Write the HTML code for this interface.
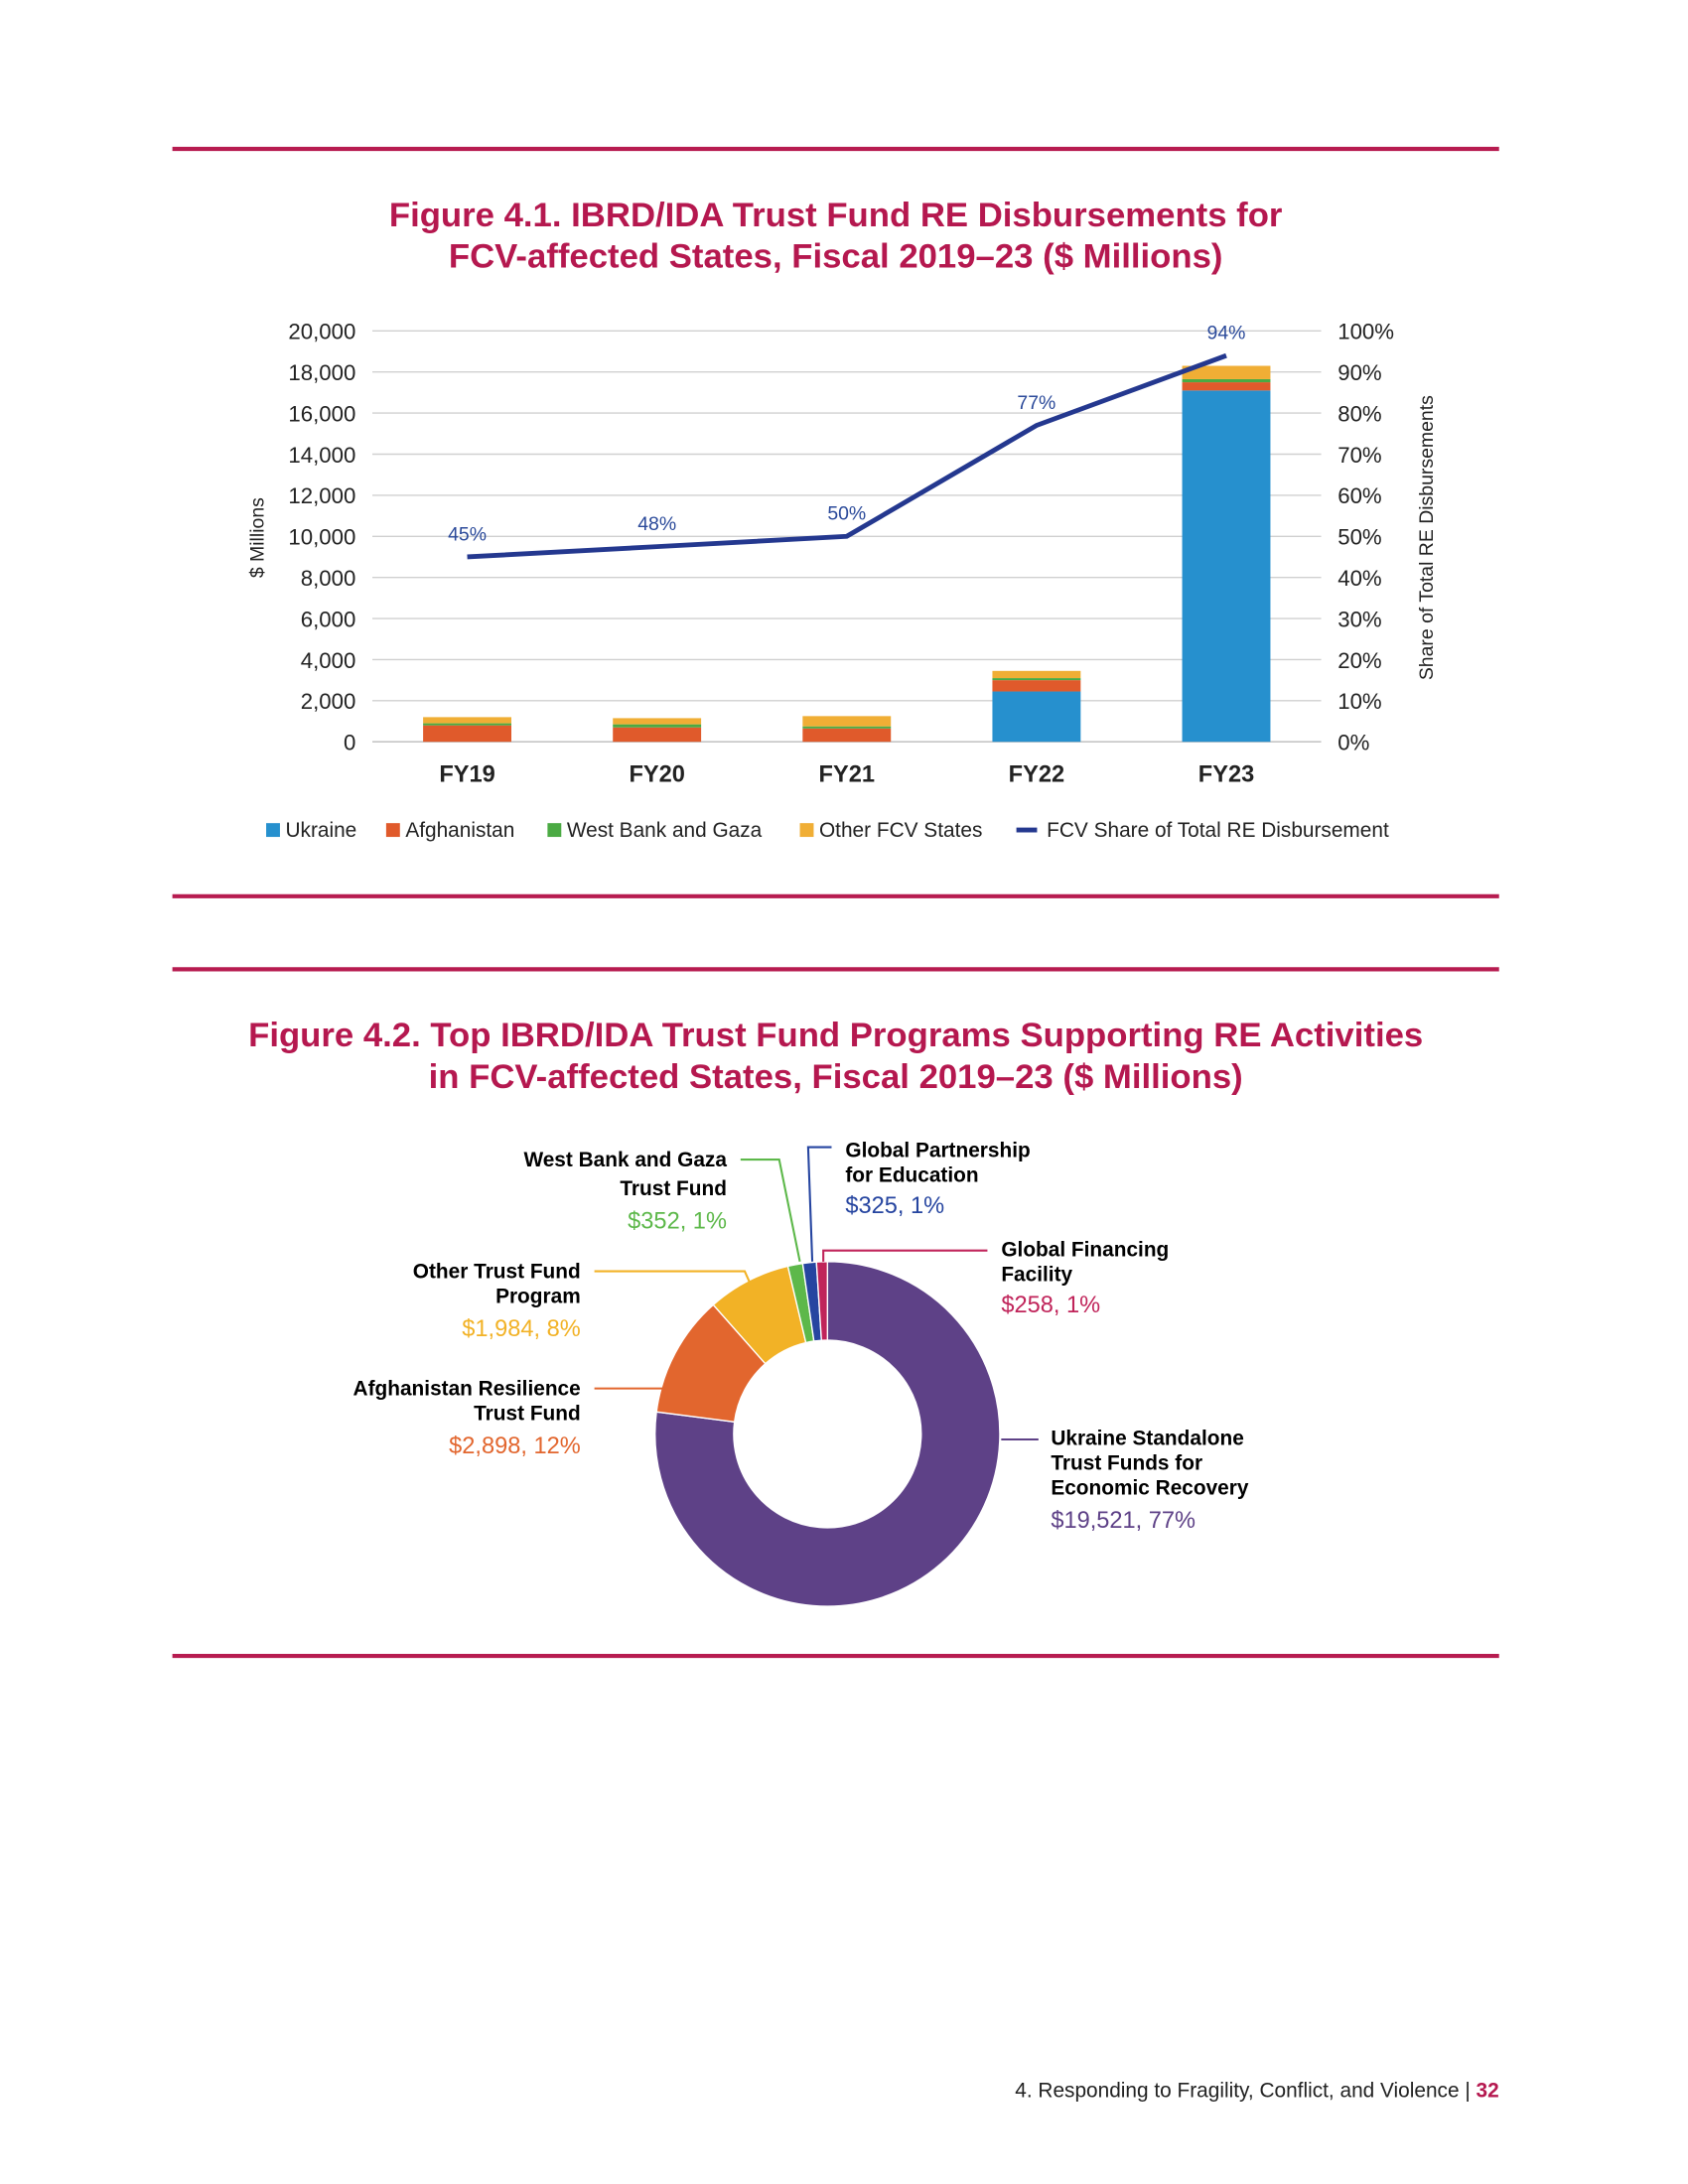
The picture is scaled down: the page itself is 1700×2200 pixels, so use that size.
<!DOCTYPE html>
<html><head><meta charset="utf-8"><style>
html,body{margin:0;padding:0;background:#fff}
svg{display:block;font-family:"Liberation Sans",sans-serif}
</style></head><body>
<svg id="s" width="1700" height="2200" viewBox="0 0 1224 1584" xmlns="http://www.w3.org/2000/svg">
<rect width="1224" height="1584" fill="#fff"/>
<line x1="125" y1="108" x2="1087" y2="108" stroke="#B71C50" stroke-width="3"/>
<g fill="#B5184F" font-weight="bold" font-size="25" text-anchor="middle">
<text x="606" y="164">Figure 4.1. IBRD/IDA Trust Fund RE Disbursements for</text>
<text x="606" y="194">FCV-affected States, Fiscal 2019–23 ($ Millions)</text>
</g>
<g id="bar"></g>
<line x1="125" y1="650" x2="1087" y2="650" stroke="#B71C50" stroke-width="3"/>
<line x1="125" y1="703" x2="1087" y2="703" stroke="#B71C50" stroke-width="3"/>
<g fill="#B5184F" font-weight="bold" font-size="25" text-anchor="middle">
<text x="606" y="759">Figure 4.2. Top IBRD/IDA Trust Fund Programs Supporting RE Activities</text>
<text x="606" y="789">in FCV-affected States, Fiscal 2019–23 ($ Millions)</text>
</g>
<g id="donut"></g>
<g font-size="15">
<g text-anchor="end"><text x="527" y="846" font-weight="bold">West Bank and Gaza</text><text x="527" y="867" font-weight="bold">Trust Fund</text><text x="527" y="891" fill="#5DB84A" font-size="17">$352, 1%</text></g>
<polyline points="537,841 565,841 580,915" fill="none" stroke="#5DB84A" stroke-width="1.5"/>
<g><text x="613" y="839" font-weight="bold">Global Partnership</text><text x="613" y="857" font-weight="bold">for Education</text><text x="613" y="880" fill="#2645A0" font-size="17">$325, 1%</text></g>
<polyline points="603,832 586,832 589,915" fill="none" stroke="#2645A0" stroke-width="1.5"/>
<g><text x="726" y="911" font-weight="bold">Global Financing</text><text x="726" y="929" font-weight="bold">Facility</text><text x="726" y="952" fill="#C0245A" font-size="17">$258, 1%</text></g>
<polyline points="597,915 597,907 716,907" fill="none" stroke="#C0245A" stroke-width="1.5"/>
<g text-anchor="end"><text x="421" y="927" font-weight="bold">Other Trust Fund</text><text x="421" y="945" font-weight="bold">Program</text><text x="421" y="969" fill="#F2B226" font-size="17">$1,984, 8%</text></g>
<polyline points="431,922 540,922 548,940" fill="none" stroke="#F2B226" stroke-width="1.5"/>
<g text-anchor="end"><text x="421" y="1012" font-weight="bold">Afghanistan Resilience</text><text x="421" y="1030" font-weight="bold">Trust Fund</text><text x="421" y="1054" fill="#E2662E" font-size="17">$2,898, 12%</text></g>
<polyline points="431,1007 481,1007" fill="none" stroke="#E2662E" stroke-width="1.5"/>
<g><text x="762" y="1048" font-weight="bold">Ukraine Standalone</text><text x="762" y="1066" font-weight="bold">Trust Funds for</text><text x="762" y="1084" font-weight="bold">Economic Recovery</text><text x="762" y="1108" fill="#5E4187" font-size="17">$19,521, 77%</text></g>
<polyline points="726,1044 753,1044" fill="none" stroke="#5E4187" stroke-width="1.5"/>
</g>
<line x1="125" y1="1201" x2="1087" y2="1201" stroke="#B71C50" stroke-width="3"/>
<text x="1087" y="1521" text-anchor="end" font-size="15" fill="#222">4. Responding to Fragility, Conflict, and Violence  <tspan fill="#222">|</tspan>  <tspan fill="#B5184F" font-weight="bold">32</tspan></text>
</svg>
<script>
const categories=["FY19","FY20","FY21","FY22","FY23"];
const ukraine=[0,0,0,2450,17100];
const afghanistan=[800,700,650,550,400];
const westBank=[100,150,100,100,150];
const otherFCV=[300,300,500,350,650];
const sharePct=[45,47.5,50,77,94];
const leftTicks=[0,2000,4000,6000,8000,10000,12000,14000,16000,18000,20000];
const rightTicks=[0,10,20,30,40,50,60,70,80,90,100];
const donutNames=["Ukraine Standalone","Afghanistan Resilience","Other Trust Fund","West Bank and Gaza","Global Partnership for Education","Global Financing Facility"];
const donutValues=[19521,2898,1984,352,325,258];

const NS="http://www.w3.org/2000/svg";
function mk(p,t,a){const e=document.createElementNS(NS,t);for(const k in a)e.setAttribute(k,a[k]);p.appendChild(e);return e;}
const g=document.getElementById('bar');
const X0=270,X1=958,Y0=538,Y1=240;
const y=v=>Y0-(v/20000)*(Y0-Y1);
const yp=v=>Y0-(v/100)*(Y0-Y1);
const step=(X1-X0)/categories.length;
const x=i=>X0+step*(i+0.5);
leftTicks.forEach((t,i)=>{
 const ln=mk(g,'line',{x1:X0,x2:X1,y1:y(t),y2:y(t),stroke:i==0?'#bbb':'#d0d0d0','stroke-width':1});
 
 
 const tx=mk(g,'text',{x:258,y:y(t)+6,'text-anchor':'end','font-size':16,fill:'#222'});
 tx.textContent=t.toLocaleString('en-US');
 
 
});
rightTicks.forEach(t=>{
 const tx=mk(g,'text',{x:970,y:yp(t)+6,'font-size':16,fill:'#222'});
 tx.textContent=t+'%';
 
 
});
let lt=mk(g,'text',{transform:'translate(191,390) rotate(-90)','text-anchor':'middle','font-size':14,fill:'#222'});lt.textContent='$ Millions';


let rt=mk(g,'text',{transform:'translate(1039,390) rotate(-90)','text-anchor':'middle','font-size':14,fill:'#222'});rt.textContent='Share of Total RE Disbursements';


const series=[[ukraine,'#2690CE','ukraine'],[afghanistan,'#E05A2B','afghanistan'],[westBank,'#4BAA43','west-bank'],[otherFCV,'#F0AE35','other-fcv']];
const bw=64;
categories.forEach((c,i)=>{
 let acc=0;
 series.forEach(s=>{
  const v=s[0][i];if(v<=0)return;
  const r=mk(g,'rect',{x:x(i)-bw/2,y:y(acc+v),width:bw,height:y(acc)-y(acc+v),fill:s[1]});
  
  
  acc+=v;
 });
 const tx=mk(g,'text',{x:x(i),y:567,'text-anchor':'middle','font-size':17,'font-weight':'bold',fill:'#222'});tx.textContent=c;
 
 
});
const pl=mk(g,'polyline',{points:sharePct.map((v,i)=>x(i)+','+yp(v)).join(' '),fill:'none',stroke:'#24388F','stroke-width':3.5});


sharePct.forEach((v,i)=>{
 const tx=mk(g,'text',{x:x(i),y:yp(v)-12,'text-anchor':'middle','font-size':14,fill:'#2B4A9A'});tx.textContent=Math.round(v)+'%';
 
 
});
const leg=[['Ukraine','#2690CE',193],['Afghanistan','#E05A2B',280],['West Bank and Gaza','#4BAA43',397],['Other FCV States','#F0AE35',580]];
leg.forEach(l=>{
 const r=mk(g,'rect',{x:l[2],y:597,width:10,height:10,fill:l[1]});
 
 
 const tx=mk(g,'text',{x:l[2]+14,y:607,'font-size':15,fill:'#222'});tx.textContent=l[0];
 
 
});
const ll=mk(g,'line',{x1:737,x2:752,y1:602,y2:602,stroke:'#24388F','stroke-width':3.5});


const lt2=mk(g,'text',{x:759,y:607,'font-size':15,fill:'#222'});lt2.textContent='FCV Share of Total RE Disbursement';



// donut
const d=document.getElementById('donut');
const cx=600,cy=1040,R=125,r0=68;
const colors=['#5E4187','#E2662E','#F2B226','#5DB84A','#2645A0','#C0245A'];
const tot=donutValues.reduce((a,b)=>a+b,0);
let a0=0;
donutValues.forEach((v,i)=>{
 const a1=a0+v/tot*2*Math.PI;
 const p=(rad,a)=>[cx+rad*Math.sin(a),cy-rad*Math.cos(a)];
 const large=(a1-a0)>Math.PI?1:0;
 const [x1,y1]=p(R,a0),[x2,y2]=p(R,a1),[x3,y3]=p(r0,a1),[x4,y4]=p(r0,a0);
 const path=mk(d,'path',{d:`M${x1},${y1}A${R},${R} 0 ${large} 1 ${x2},${y2}L${x3},${y3}A${r0},${r0} 0 ${large} 0 ${x4},${y4}Z`,fill:colors[i],stroke:'#fff','stroke-width':1});
 
 
 a0=a1;
});
</script>
</body></html>
